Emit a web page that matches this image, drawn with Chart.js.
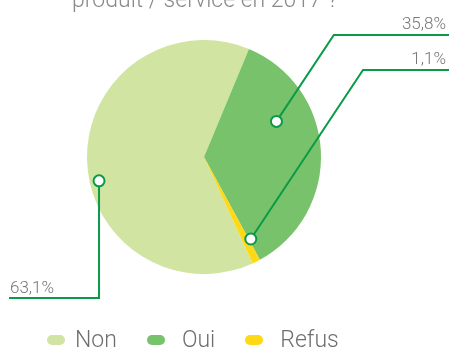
<!DOCTYPE html>
<html>
<head>
<meta charset="utf-8">
<script src="https://cdn.jsdelivr.net/npm/chart.js@4.4.1/dist/chart.umd.min.js"></script>
<style>
  body { margin: 0; background: #fff; font-family: Roboto, sans-serif; }
  #wrap { position: relative; width: 449px; height: 349px; overflow: hidden; }
  #legend { position: absolute; left: 47px; top: 325px; display: flex; align-items: center;
            font-size: 23px; font-weight: 300; color: #6f6f6f; line-height: 30px; }
  .item { display: flex; align-items: center; margin-right: 30px; }
  .swatch { width: 18px; height: 10px; border-radius: 5px; margin-right: 10px; }
  .item + .item .swatch { margin-right: 17px; }
</style>
</head>
<body>
<div id="wrap">
  <canvas id="pieChart" width="449" height="349"></canvas>
  <div id="legend"></div>
</div>
<script>
const categories = ['Non', 'Oui', 'Refus'];
const shares = [63.1, 35.8, 1.1];
const sliceColors = ['#d1e4a1', '#77c26a', '#ffd816'];
const titleText = 'produit / service en 2017 ?';

// callout per slice: position inside the slice (share of its angle, share of radius)
// and where the leader line turns
const callouts = [
  { at: 0.448, r: 0.92, side: 'left', turnY: 298, endX: 9 },
  { at: 0.32, r: 0.69, side: 'right', turnY: 35 },
  { at: -0.3, r: 0.807, side: 'right', turnY: 70 }
];

const lineGreen = '#0a9a48';

function fmt(v) {
  return v.toFixed(1).replace('.', ',') + '%';
}

const calloutPlugin = {
  id: 'callouts',
  afterDatasetsDraw(chart) {
    const ctx = chart.ctx;
    const arcs = chart.getDatasetMeta(0).data;
    ctx.save();

    // heading, only its lower part fits on the canvas
    ctx.fillStyle = '#8a8a8a';
    ctx.font = '300 23px Roboto';
    ctx.textAlign = 'center';
    ctx.textBaseline = 'alphabetic';
    ctx.fillText(titleText, arcs[0].x + 1, 7);

    ctx.font = '300 17px Roboto';
    arcs.forEach((arc, i) => {
      const c = callouts[i];
      const a = arc.startAngle + c.at * (arc.endAngle - arc.startAngle);
      const px = arc.x + Math.cos(a) * arc.outerRadius * c.r;
      const py = arc.y + Math.sin(a) * arc.outerRadius * c.r;

      ctx.strokeStyle = lineGreen;
      ctx.lineWidth = 2;
      ctx.beginPath();
      ctx.moveTo(px, py);
      ctx.fillStyle = '#777';
      if (c.side === 'left') {
        ctx.lineTo(px, c.turnY);
        ctx.lineTo(c.endX, c.turnY);
        ctx.stroke();
        ctx.textAlign = 'left';
        ctx.fillText(fmt(shares[i]), 10, c.turnY - 5);
      } else {
        const ex = px + (py - c.turnY) * 0.664;
        ctx.lineTo(ex, c.turnY);
        ctx.lineTo(chart.width, c.turnY);
        ctx.stroke();
        ctx.textAlign = 'right';
        ctx.fillText(fmt(shares[i]), chart.width - 3, c.turnY - 6);
      }

      ctx.beginPath();
      ctx.arc(px, py, 5.5, 0, Math.PI * 2);
      ctx.fillStyle = '#fff';
      ctx.fill();
      ctx.stroke();
    });
    ctx.restore();
  }
};

new Chart(document.getElementById('pieChart'), {
  type: 'pie',
  data: {
    labels: categories,
    datasets: [{
      data: shares,
      backgroundColor: sliceColors,
      borderWidth: 0,
      hoverOffset: 0
    }]
  },
  options: {
    responsive: false,
    animation: false,
    rotation: 155.44,
    layout: { padding: { left: 87, right: 128, top: 40, bottom: 75 } },
    plugins: {
      legend: { display: false },
      tooltip: { enabled: false }
    }
  },
  plugins: [calloutPlugin]
});

// legend under the pie
const legend = document.getElementById('legend');
categories.forEach((name, i) => {
  const item = document.createElement('span');
  item.className = 'item';
  const sw = document.createElement('span');
  sw.className = 'swatch';
  sw.style.background = sliceColors[i];
  item.appendChild(sw);
  item.appendChild(document.createTextNode(name));
  legend.appendChild(item);
});
</script>
</body>
</html>
